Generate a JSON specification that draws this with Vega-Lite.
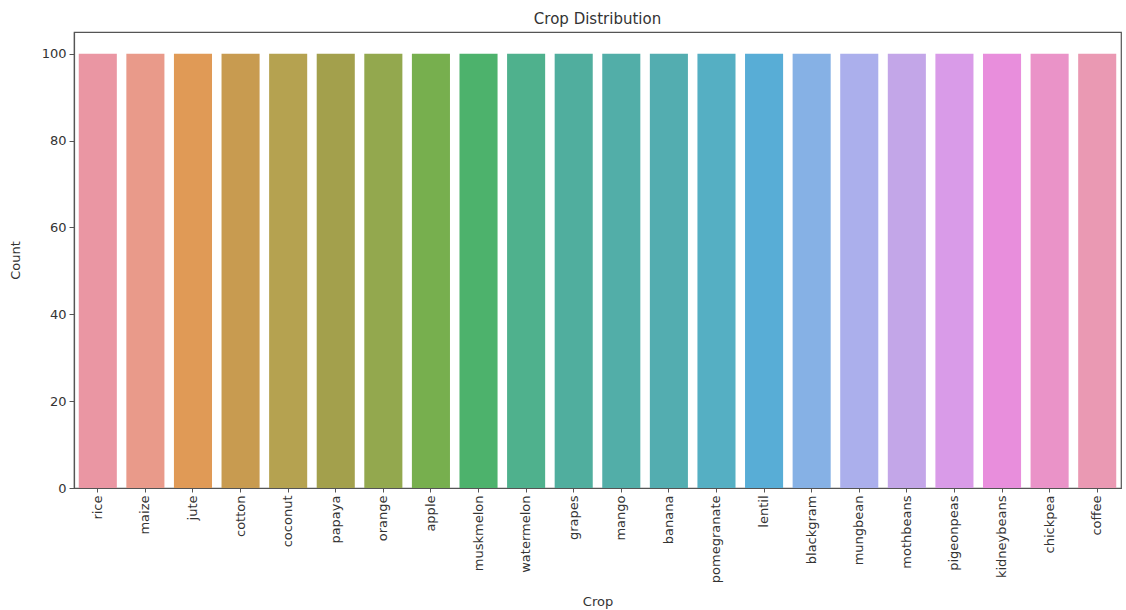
{
  "$schema": "https://vega.github.io/schema/vega-lite/v6.json",
  "autosize": {"type": "none"},
  "padding": {"left": 74, "top": 32, "right": 5, "bottom": 122},
  "width": 1047,
  "height": 456,
  "background": "white",
  "title": {"text": "Crop Distribution", "font": "DejaVu Sans", "fontSize": 15, "fontWeight": "normal", "color": "#333", "offset": 5},
  "config": {
    "view": {"stroke": "#555", "strokeWidth": 1.2},
    "axis": {"labelFont": "DejaVu Sans", "titleFont": "DejaVu Sans", "labelFontSize": 13, "titleFontSize": 13, "titleFontWeight": "normal", "labelColor": "#333", "titleColor": "#333", "domainColor": "#555", "domainWidth": 1.2, "tickColor": "#555", "grid": false}
  },
  "data": {"values": [
    {"crop": "rice", "count": 100},
    {"crop": "maize", "count": 100},
    {"crop": "jute", "count": 100},
    {"crop": "cotton", "count": 100},
    {"crop": "coconut", "count": 100},
    {"crop": "papaya", "count": 100},
    {"crop": "orange", "count": 100},
    {"crop": "apple", "count": 100},
    {"crop": "muskmelon", "count": 100},
    {"crop": "watermelon", "count": 100},
    {"crop": "grapes", "count": 100},
    {"crop": "mango", "count": 100},
    {"crop": "banana", "count": 100},
    {"crop": "pomegranate", "count": 100},
    {"crop": "lentil", "count": 100},
    {"crop": "blackgram", "count": 100},
    {"crop": "mungbean", "count": 100},
    {"crop": "mothbeans", "count": 100},
    {"crop": "pigeonpeas", "count": 100},
    {"crop": "kidneybeans", "count": 100},
    {"crop": "chickpea", "count": 100},
    {"crop": "coffee", "count": 100}
  ]},
  "mark": {"type": "bar"},
  "encoding": {
    "x": {
      "field": "crop", "type": "nominal", "sort": null, "title": "Crop",
      "scale": {"paddingInner": 0.2, "paddingOuter": 0.1},
      "axis": {"labelAngle": -90, "tickSize": 4, "labelPadding": 3, "titlePadding": 13}
    },
    "y": {
      "field": "count", "type": "quantitative", "title": "Count",
      "scale": {"domain": [0, 105], "nice": false},
      "axis": {"values": [0, 20, 40, 60, 80, 100], "tickSize": 5, "labelPadding": 3, "titlePadding": 19}
    },
    "color": {
      "field": "crop", "type": "nominal", "sort": null, "legend": null,
      "scale": {
        "domain": ["rice","maize","jute","cotton","coconut","papaya","orange","apple","muskmelon","watermelon","grapes","mango","banana","pomegranate","lentil","blackgram","mungbean","mothbeans","pigeonpeas","kidneybeans","chickpea","coffee"],
        "range": ["#EA96A3","#E99A8A","#E09A56","#C89B50","#B5A250","#A3A04C","#93A84E","#77AF4E","#4DB26C","#4FB18D","#50AE9E","#52AEA8","#53ADB0","#55AFC3","#58ADD6","#86B1E5","#ABAFEC","#C3A6E8","#D99BE8","#E88EDC","#EA93C8","#EA99B3"]
      }
    }
  }
}
